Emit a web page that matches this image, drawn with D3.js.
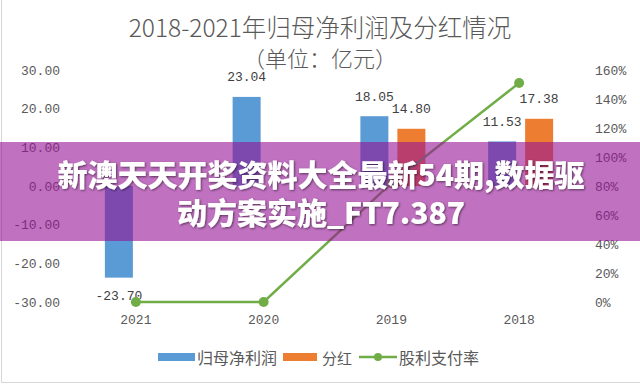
<!DOCTYPE html>
<meta charset="utf-8">
<style type="text/css">
    body{
      margin: 0;
      background: #fff;
    }
    svg{
      display: block;
    }
    .tick text{
      font-family: "Liberation Mono", monospace;
      font-size: 13px;
      fill: #595959;
    }
    .cjk{
      font-family: "Noto Sans CJK SC", sans-serif;
      fill: #595959;
    }
</style>
<body>
<script src="https://cdn.jsdelivr.net/npm/d3@7"></script>
<script>

//categories and series
var years    = ["2021", "2020", "2019", "2018"];
var profit   = [-23.70, 23.04, 18.05, 11.53];   // 归母净利润 (亿元)
var dividend = [0, 0, 14.80, 17.38];            // 分红 (亿元)
var payout   = [0, 0, 0.82, 1.51];              // 股利支付率

var leftTicks  = [-30, -20, -10, 0, 10, 20, 30];
var rightTicks = [0, 0.2, 0.4, 0.6, 0.8, 1.0, 1.2, 1.4, 1.6];

var seriesNames = ["归母净利润", "分红", "股利支付率"];
var colors = {profit: "#5B9BD5", dividend: "#ED7D31", payout: "#70AD47"};

var width = 640, height = 385;

var svg = d3.select("body")
  .append("svg")
  .attr("width", width)
  .attr("height", height);

//light frame round the picture
svg.append("rect")
  .attr("x", 1.5).attr("y", -2)
  .attr("width", width + 4).attr("height", height - 0.5)
  .attr("fill", "none")
  .attr("stroke", "#d6d6d6");

//title
svg.append("text")
  .attr("class", "cjk")
  .attr("x", 320).attr("y", 26)
  .attr("text-anchor", "middle")
  .attr("dominant-baseline", "central")
  .style("font-size", "24.5px")
  .style("font-weight", 300)
  .text("2018-2021年归母净利润及分红情况");

svg.append("text")
  .attr("class", "cjk")
  .attr("x", 320).attr("y", 57)
  .attr("text-anchor", "middle")
  .attr("dominant-baseline", "central")
  .style("font-size", "22px")
  .style("font-weight", 300)
  .text("（单位：亿元）");

//scales
var x0 = d3.scaleBand().domain(years).range([72, 583]);
var x1 = d3.scaleBand().domain(["profit", "dividend"]).range([-31, 34]).paddingInner(0.243);
var y  = d3.scaleLinear().domain([-30, 30]).range([302, 70]);
var y2 = d3.scaleLinear().domain([0, 1.6]).range([302, 70]);

function cx(d){ return x0(d) + x0.bandwidth() / 2; }

//axes, no lines, labels only
var gl = svg.append("g")
  .attr("transform", "translate(63,0)")
  .call(d3.axisLeft(y).tickValues(leftTicks).tickSize(0).tickPadding(3)
    .tickFormat(function(d){ return d.toFixed(2); }));
gl.select(".domain").remove();

var gr = svg.append("g")
  .attr("transform", "translate(592,0)")
  .call(d3.axisRight(y2).tickValues(rightTicks).tickSize(0).tickPadding(3)
    .tickFormat(function(d){ return Math.round(d * 100) + "%"; }));
gr.select(".domain").remove();

var gb = svg.append("g")
  .attr("transform", "translate(0,312)")
  .call(d3.axisBottom(x0).tickSize(0).tickPadding(3));
gb.select(".domain").remove();
svg.selectAll(".tick text").attr("font-family", null).attr("font-size", null);

//bars
var rows = years.map(function(d, i){
  return {year: d, profit: profit[i], dividend: dividend[i]};
});

var groups = svg.append("g").selectAll("g")
  .data(rows)
  .enter().append("g")
  .attr("transform", function(d){ return "translate(" + cx(d.year) + ",0)"; });

groups.selectAll("rect")
  .data(function(d){ return ["profit", "dividend"].map(function(k){ return {key: k, value: d[k]}; }); })
  .enter().append("rect")
  .attr("x", function(d){ return x1(d.key); })
  .attr("width", x1.bandwidth())
  .attr("y", function(d){ return y(Math.max(0, d.value)); })
  .attr("height", function(d){ return Math.abs(y(d.value) - y(0)); })
  .attr("fill", function(d){ return colors[d.key]; });

//value labels
groups.selectAll("text")
  .data(function(d){ return ["profit", "dividend"].map(function(k){ return {key: k, value: d[k]}; }).filter(function(k){ return k.value !== 0; }); })
  .enter().append("text")
  .attr("x", function(d){ return x1(d.key) + x1.bandwidth() / 2; })
  .attr("y", function(d){ return d.value >= 0 ? y(d.value) - 19 : y(d.value) + 19; })
  .attr("text-anchor", "middle")
  .attr("dominant-baseline", "central")
  .style("font-family", "Liberation Mono, monospace")
  .style("font-size", "13px")
  .style("fill", "#404040")
  .text(function(d){ return d.value.toFixed(2); });

//payout line
var line = d3.line()
  .x(function(d, i){ return cx(years[i]); })
  .y(function(d){ return y2(d); });

svg.append("path")
  .datum(payout)
  .attr("d", line)
  .attr("fill", "none")
  .attr("stroke", colors.payout)
  .attr("stroke-width", 2.5);

svg.append("g").selectAll("circle")
  .data(payout)
  .enter().append("circle")
  .attr("cx", function(d, i){ return cx(years[i]); })
  .attr("cy", function(d){ return y2(d); })
  .attr("r", 5)
  .attr("fill", colors.payout);

//legend
var legend = svg.append("g").attr("transform", "translate(0,357)");

legend.append("rect").attr("x", 158).attr("y", -4).attr("width", 37).attr("height", 8).attr("fill", colors.profit);
legend.append("text").attr("class", "cjk").attr("x", 197).attr("y", 0)
  .attr("dominant-baseline", "central").style("font-size", "16px").text(seriesNames[0]);

legend.append("rect").attr("x", 283).attr("y", -4).attr("width", 34).attr("height", 8).attr("fill", colors.dividend);
legend.append("text").attr("class", "cjk").attr("x", 322).attr("y", 0)
  .attr("dominant-baseline", "central").style("font-size", "15px").text(seriesNames[1]);

legend.append("line").attr("x1", 359).attr("x2", 397).attr("y1", 0).attr("y2", 0)
  .attr("stroke", colors.payout).attr("stroke-width", 2.5);
legend.append("circle").attr("cx", 378).attr("cy", 0).attr("r", 4).attr("fill", colors.payout);
legend.append("text").attr("class", "cjk").attr("x", 399).attr("y", 0)
  .attr("dominant-baseline", "central").style("font-size", "16px").text(seriesNames[2]);

//banner laid over the picture
var defs = svg.append("defs");
var shadow = defs.append("filter").attr("id", "shadow")
  .attr("x", "-5%").attr("y", "-20%").attr("width", "110%").attr("height", "140%");
shadow.append("feDropShadow")
  .attr("dx", 1).attr("dy", 1).attr("stdDeviation", 1.2)
  .attr("flood-color", "#000").attr("flood-opacity", 0.55);

svg.append("rect")
  .attr("x", 0).attr("y", 142)
  .attr("width", width).attr("height", 99)
  .attr("fill", "rgb(150,18,150)")
  .attr("fill-opacity", 0.6);

var bannerLines = ["新澳天天开奖资料大全最新54期,数据驱", "动方案实施_FT7.387"];
svg.append("g").selectAll("text")
  .data(bannerLines)
  .enter().append("text")
  .attr("x", 321)
  .attr("y", function(d, i){ return 173 + i * 38; })
  .attr("text-anchor", "middle")
  .attr("dominant-baseline", "central")
  .attr("filter", "url(#shadow)")
  .style("font-family", "Noto Sans CJK SC, sans-serif")
  .style("font-weight", 900)
  .style("font-size", "30px")
  .style("fill", "#fff")
  .text(function(d){ return d; });

</script>
